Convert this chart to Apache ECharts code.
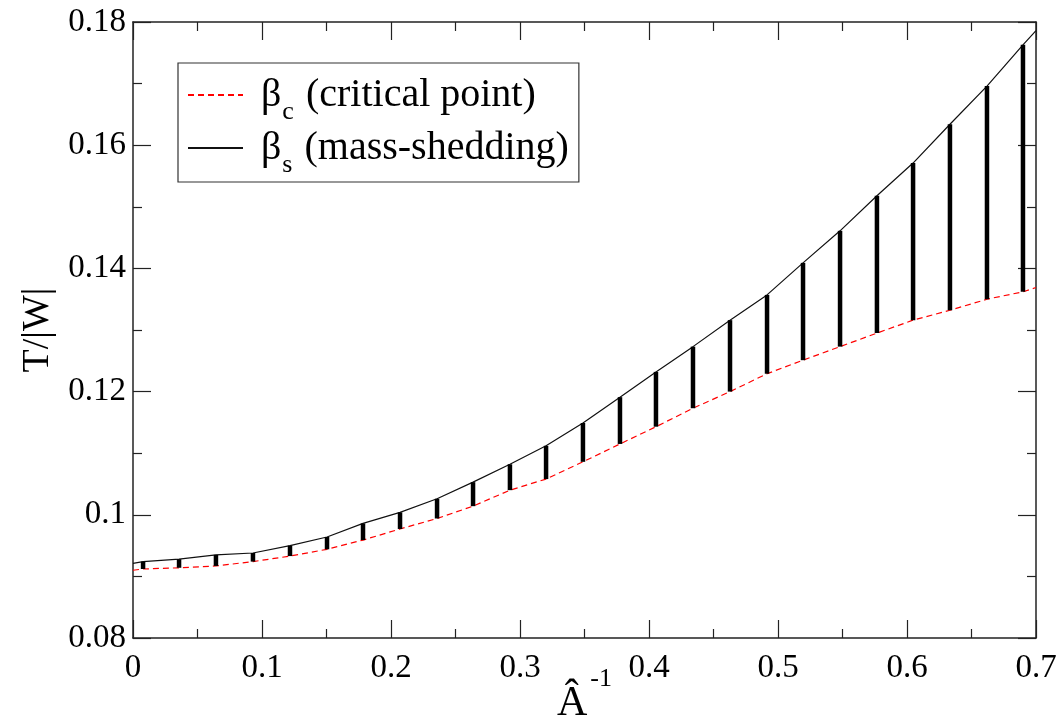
<!DOCTYPE html>
<html>
<head>
<meta charset="utf-8">
<script src="https://cdn.jsdelivr.net/npm/echarts@6/dist/echarts.min.js"></script>
<style>html,body{margin:0;padding:0;background:#fff}#c{width:1057px;height:724px}</style>
</head>
<body>
<div id="c"></div>
<script>
// x positions (Â^-1) of the computed models, including curve end points
const xVals = [0, 0.0078, 0.0357, 0.0643, 0.0930, 0.1217, 0.1504, 0.1783, 0.2070, 0.2357, 0.2636,
  0.2922, 0.3202, 0.3488, 0.3775, 0.4054, 0.4341, 0.4628, 0.4915, 0.5194, 0.5481,
  0.5767, 0.6047, 0.6333, 0.6620, 0.6899, 0.7];
// beta_s (mass-shedding), upper curve
const betaS = [0.0921, 0.0924, 0.0928, 0.0935, 0.0938, 0.0950, 0.0964, 0.0986, 0.1004, 0.1026, 0.1053,
  0.1082, 0.1112, 0.1149, 0.1191, 0.1232, 0.1273, 0.1316, 0.1357, 0.1409, 0.1461,
  0.1518, 0.1571, 0.1634, 0.1696, 0.1763, 0.1786];
// beta_c (critical point), lower curve
const betaC = [0.0910, 0.0912, 0.0914, 0.0917, 0.0924, 0.0933, 0.0944, 0.0959, 0.0977, 0.0994, 0.1014,
  0.1040, 0.1058, 0.1086, 0.1115, 0.1143, 0.1173, 0.1200, 0.1229, 0.1251, 0.1273,
  0.1295, 0.1316, 0.1332, 0.1350, 0.1362, 0.1369];
// vertical bars span from beta_c to beta_s at the inner model points
const barIdx = xVals.map((_, i) => i).slice(1, -1);

const xTicks = [0, 0.1, 0.2, 0.3, 0.4, 0.5, 0.6, 0.7];
const yTicks = [0.08, 0.10, 0.12, 0.14, 0.16, 0.18];

const FONT = 'Liberation Serif';
const chart = echarts.init(document.getElementById('c'));

function axisCommon(showLabel, margin) {
  return {
    axisLine: { show: true, onZero: false, lineStyle: { color: '#222', width: 1.5 } },
    axisTick: { show: true, inside: true, length: 18, lineStyle: { color: '#222', width: 1.2 } },
    minorTick: { show: true, splitNumber: 2, length: 9, lineStyle: { color: '#222', width: 1.2 } },
    splitLine: { show: false },
    axisLabel: { show: showLabel, fontFamily: FONT, fontSize: 33, color: '#000', margin: margin || 8 }
  };
}

const option = {
  animation: false,
  backgroundColor: '#fff',
  grid: { left: 133, right: 21, top: 22, bottom: 86, containLabel: false, outerBoundsMode: 'none' },
  xAxis: [
    Object.assign({
      type: 'value', min: xTicks[0], max: xTicks[xTicks.length - 1], interval: 0.1, position: 'bottom',
      name: '{a|Â}{s|-1}', nameLocation: 'middle', nameGap: 45, nameMoveOverlap: false,
      nameTextStyle: { rich: {
        a: { fontFamily: FONT, fontSize: 42, color: '#000' },
        s: { fontFamily: FONT, fontSize: 26, color: '#000', lineHeight: 26, padding: [0, 0, 50, 3] }
      } }
    }, axisCommon(true, 14)),
    Object.assign({
      type: 'value', min: xTicks[0], max: xTicks[xTicks.length - 1], interval: 0.1, position: 'top'
    }, axisCommon(false))
  ],
  yAxis: [
    Object.assign({
      type: 'value', min: yTicks[0], max: yTicks[yTicks.length - 1], interval: 0.02, position: 'left',
      name: 'T/|W|', nameLocation: 'middle', nameGap: 75, nameRotate: 90,
      nameTextStyle: { fontFamily: FONT, fontSize: 38, color: '#000' }
    }, axisCommon(true, 7)),
    Object.assign({
      type: 'value', min: yTicks[0], max: yTicks[yTicks.length - 1], interval: 0.02, position: 'right'
    }, axisCommon(false))
  ],
  legend: {
    orient: 'vertical', left: 178, top: 63,
    backgroundColor: '#fff', borderColor: '#333', borderWidth: 1.2, borderRadius: 0,
    padding: [2, 10, 4, 9],
    itemWidth: 55, itemHeight: 14, itemGap: -7,
    itemStyle: { color: 'transparent', borderWidth: 0, opacity: 0 },
    data: ['βc', 'βs'],
    formatter: function (name) {
      if (name === 'βc') return '{b|β}{sub|c}{t| (critical point)}';
      return '{b|β}{sub|s}{t| (mass-shedding)}';
    },
    textStyle: {
      fontFamily: FONT, fontSize: 40, color: '#000', lineHeight: 40,
      rich: {
        b: { fontFamily: FONT, fontSize: 40, color: '#000', lineHeight: 40, padding: [0, 0, 0, 13] },
        sub: { fontFamily: FONT, fontSize: 26, color: '#000', lineHeight: 26, padding: [34, 2, 0, 1] },
        t: { fontFamily: FONT, fontSize: 40, color: '#000', lineHeight: 40 }
      }
    }
  },
  series: [
    {
      name: 'βc', type: 'line', xAxisIndex: 0, yAxisIndex: 0,
      data: xVals.map((x, i) => [x, betaC[i]]),
      showSymbol: false, symbol: 'none',
      lineStyle: { color: '#ff0000', width: 1.2, type: [6, 4] },
      itemStyle: { color: '#ff0000' },
      z: 3
    },
    {
      name: 'βs', type: 'line', xAxisIndex: 0, yAxisIndex: 0,
      data: xVals.map((x, i) => [x, betaS[i]]),
      showSymbol: false, symbol: 'none',
      lineStyle: { color: '#111', width: 1.2 },
      itemStyle: { color: '#111' },
      z: 3
    },
    {
      name: 'bars', type: 'custom', xAxisIndex: 0, yAxisIndex: 0,
      data: barIdx.map(i => [xVals[i], betaC[i], betaS[i]]),
      encode: { x: 0, y: [1, 2] },
      renderItem: function (params, api) {
        const p1 = api.coord([api.value(0), api.value(1)]);
        const p2 = api.coord([api.value(0), api.value(2)]);
        return {
          type: 'line',
          shape: { x1: p1[0], y1: p1[1], x2: p2[0], y2: p2[1] },
          style: { stroke: '#000', lineWidth: 4.5 }
        };
      },
      z: 4
    }
  ]
};
chart.setOption(option);
</script>
</body>
</html>
